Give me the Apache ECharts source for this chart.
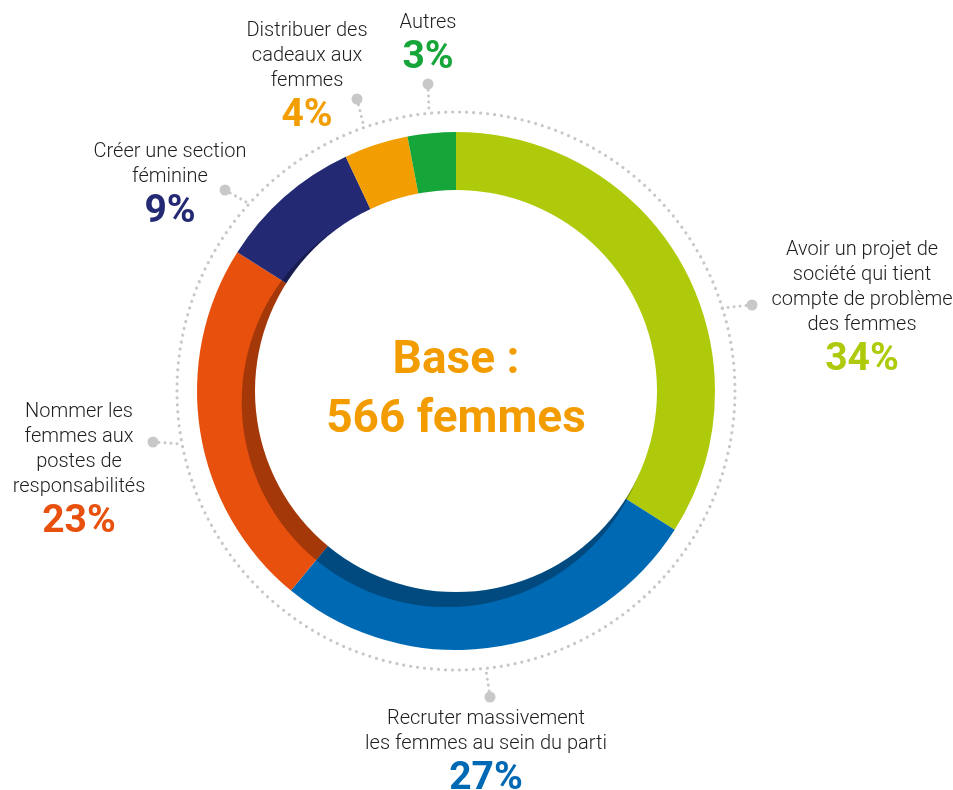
<!DOCTYPE html>
<html>
<head>
<meta charset="utf-8">
<script src="https://cdn.jsdelivr.net/npm/echarts@6/dist/echarts.min.js"></script>
<style>
  html, body { margin: 0; padding: 0; background: #fff; }
  #chart { width: 953px; height: 790px; }
</style>
</head>
<body>
<div id="chart"></div>
<script>
// données
var categories = [
  'Avoir un projet de\nsociété qui tient\ncompte de problème\ndes femmes',
  'Recruter massivement\nles femmes au sein du parti',
  'Nommer les\nfemmes aux\npostes de\nresponsabilités',
  'Créer une section\nféminine',
  'Distribuer des\ncadeaux aux\nfemmes',
  'Autres'
];
var values = [34, 27, 23, 9, 4, 3];
var colors = ['#afca0b', '#0069b4', '#e8500e', '#232a73', '#f39e00', '#16a539'];
var centerText = ['Base :', '566 femmes'];

// mise en page des étiquettes (x centre, haut) et des petits connecteurs
var labelPos = [[862, 237], [486, 706], [79, 399], [170, 139], [307, 18], [428, 10]];
var connectors = [
  [[752, 305], [722, 308]],
  [[490, 697], [486, 670]],
  [[153, 442], [182, 444]],
  [[225, 190], [248, 203]],
  [[357, 99], [364, 127]],
  [[428, 84], [429, 112]]
];

var cx = 456, cy = 391;
var chart = echarts.init(document.getElementById('chart'));

var rich = {
  n: { fontFamily: 'Roboto', fontWeight: 300, fontSize: 20, lineHeight: 25, color: '#1e1e1e', align: 'center' }
};
colors.forEach(function (c, i) {
  rich['p' + i] = { fontFamily: 'Roboto', fontWeight: 'bold', fontSize: 39, lineHeight: 46, color: c, align: 'center' };
});

var graphics = [{
  type: 'circle',
  shape: { cx: cx, cy: cy, r: 279 },
  style: { fill: 'none', stroke: '#c8c8c8', lineWidth: 3.2, lineDash: [0.01, 7], lineCap: 'round' },
  silent: true
}];
connectors.forEach(function (c) {
  graphics.push({
    type: 'polyline',
    shape: { points: c },
    style: { fill: 'none', stroke: '#c8c8c8', lineWidth: 3, lineDash: [0.01, 6], lineCap: 'round' },
    silent: true
  });
  graphics.push({
    type: 'circle',
    shape: { cx: c[0][0], cy: c[0][1], r: 5.5 },
    style: { fill: '#c8c8c8' },
    silent: true
  });
});

var option = {
  animation: false,
  backgroundColor: '#fff',
  graphic: graphics,
  series: [
    {
      type: 'pie',
      z: 2,
      center: [cx, cy],
      radius: [195, 259],
      startAngle: 90,
      clockwise: true,
      avoidLabelOverlap: false,
      silent: true,
      itemStyle: { borderWidth: 0 },
      labelLine: { show: false },
      label: {
        show: true,
        position: 'outside',
        formatter: function (p) {
          return '{n|' + p.name + '}\n{p' + p.dataIndex + '|' + p.value + '%}';
        },
        rich: rich
      },
      labelLayout: function (params) {
        var pos = labelPos[params.dataIndex];
        return { x: pos[0], y: pos[1], align: 'center', verticalAlign: 'top' };
      },
      data: categories.map(function (name, i) {
        return { name: name, value: values[i], itemStyle: { color: colors[i] } };
      })
    },
    {
      // ombre intérieure
      type: 'pie',
      z: 3,
      center: [cx - 9.3, cy + 11.1],
      radius: [0, 205],
      silent: true,
      label: { show: false },
      labelLine: { show: false },
      itemStyle: { color: 'rgba(0,0,0,0.29)', borderWidth: 0 },
      data: [{ value: 1, name: 'ombre' }]
    },
    {
      type: 'pie',
      z: 4,
      center: [cx, cy],
      radius: [0, 201],
      silent: true,
      labelLine: { show: false },
      itemStyle: { color: '#ffffff', borderWidth: 0 },
      label: {
        show: true,
        position: 'center',
        formatter: centerText.join('\n'),
        fontFamily: 'Roboto',
        fontWeight: 'bold',
        fontSize: 46,
        lineHeight: 59,
        color: '#f39c00'
      },
      data: [{ value: 1, name: 'base' }]
    }
  ]
};
chart.setOption(option);
</script>
</body>
</html>
